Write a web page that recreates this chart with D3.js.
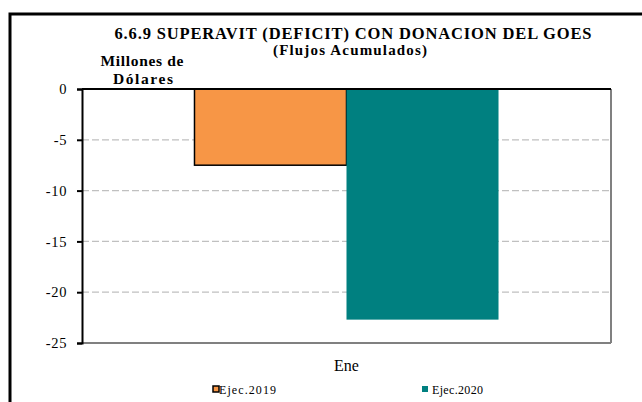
<!DOCTYPE html>
<html>
<head>
<meta charset="utf-8">
<script src="https://cdn.jsdelivr.net/npm/d3@7"></script>
<style>
  body { margin: 0; background: #fff; }
</style>
</head>
<body>
<div id="chart"></div>
<script>
var categories = ["Ene"];
var seriesNames = ["Ejec.2019", "Ejec.2020"];
var ejec2019 = [-7.5];
var ejec2020 = [-22.7];
var yTicks = [0, -5, -10, -15, -20, -25];
var colors = ["#F79646", "#008080"];

var serif = "Liberation Serif";
var width = 642, height = 402;
var margin = { top: 89, left: 82, right: 31, bottom: 59 };
var innerW = width - margin.left - margin.right;
var innerH = height - margin.top - margin.bottom;

var svg = d3.select("#chart").append("svg")
  .attr("width", width)
  .attr("height", height)
  .attr("font-family", serif);

// outer frame (right/bottom edges run off the page)
svg.append("rect")
  .attr("x", 10).attr("y", 14)
  .attr("width", 640).attr("height", 400)
  .attr("fill", "none")
  .attr("stroke", "#000")
  .attr("stroke-width", 3);

function boldLine(txt, x, yy, size, len) {
  svg.append("text")
    .attr("x", x).attr("y", yy)
    .attr("text-anchor", "middle")
    .attr("font-family", serif)
    .attr("font-size", size).attr("font-weight", "bold")
    .attr("textLength", len)
    .attr("lengthAdjust", "spacing")
    .text(txt);
}
boldLine("6.6.9 SUPERAVIT (DEFICIT) CON DONACION DEL GOES", 353, 39, 16.5, 477);
boldLine("(Flujos Acumulados)", 350, 55, 15, 154);
boldLine("Millones de", 142, 66, 15.5, 83);
boldLine("Dólares", 143, 84, 15.5, 60);

var g = svg.append("g")
  .attr("transform", "translate(" + margin.left + "," + margin.top + ")");

var y = d3.scaleLinear().domain([-25, 0]).range([innerH, 0]);
var x0 = d3.scaleBand().domain(categories).range([0, innerW]).paddingInner(0).paddingOuter(0.37);
var x1 = d3.scaleBand().domain(seriesNames).range([0, x0.bandwidth()]).padding(0);

// gridlines
g.selectAll(".grid")
  .data(yTicks.filter(function(d) { return d !== 0 && d !== -25; }))
  .enter().append("line")
  .attr("x1", 0).attr("x2", innerW)
  .attr("y1", function(d) { return y(d); })
  .attr("y2", function(d) { return y(d); })
  .attr("stroke", "#c0c0c0")
  .attr("stroke-width", 1.3)
  .attr("stroke-dasharray", "7,3");

// plot border: right and bottom gray
g.append("line")
  .attr("x1", innerW).attr("x2", innerW).attr("y1", 0).attr("y2", innerH)
  .attr("stroke", "#808080").attr("stroke-width", 2);
g.append("line")
  .attr("x1", 0).attr("x2", innerW).attr("y1", innerH).attr("y2", innerH)
  .attr("stroke", "#808080").attr("stroke-width", 2);

var rows = categories.map(function(c, i) {
  return { cat: c, vals: [ejec2019[i], ejec2020[i]] };
});

var grp = g.selectAll(".grp")
  .data(rows)
  .enter().append("g")
  .attr("transform", function(d) { return "translate(" + x0(d.cat) + ",0)"; });

grp.selectAll("rect")
  .data(function(d) { return d.vals.map(function(v, i) { return { name: seriesNames[i], v: v, i: i }; }); })
  .enter().append("rect")
  .attr("x", function(d) { return x1(d.name); })
  .attr("width", x1.bandwidth())
  .attr("y", function(d) { return y(0); })
  .attr("height", function(d) { return y(d.v) - y(0); })
  .attr("fill", function(d) { return colors[d.i]; })
  .attr("stroke", function(d) { return d.i === 0 ? "#000" : "none"; })
  .attr("stroke-width", 1.5);

// zero line on top
g.append("line")
  .attr("x1", 0).attr("x2", innerW).attr("y1", y(0)).attr("y2", y(0))
  .attr("stroke", "#000").attr("stroke-width", 2);

// y axis
var yAxis = g.append("g")
  .call(d3.axisLeft(y).tickValues(yTicks).tickSize(5).tickPadding(10).tickFormat(d3.format("d")))
  .attr("font-family", serif);
yAxis.select(".domain").attr("stroke", "#000").attr("stroke-width", 2);
yAxis.selectAll(".tick line").attr("stroke", "#000").attr("stroke-width", 2);
yAxis.selectAll(".tick text")
  .attr("font-size", 14.5)
  .attr("letter-spacing", 0.6)
  .attr("fill", "#000")
  .text(function(d) { return d < 0 ? "-" + Math.abs(d) : d; });

// category label
g.selectAll(".cat")
  .data(categories)
  .enter().append("text")
  .attr("x", function(d) { return x0(d) + x0.bandwidth() / 2; })
  .attr("y", innerH + 28)
  .attr("text-anchor", "middle")
  .attr("font-size", 16)
  .text(function(d) { return d; });

// legend
var legendX = [213, 422];
var legendTextX = [6, 10];
var legendLen = [57, 51];
var leg = svg.selectAll(".leg")
  .data(seriesNames)
  .enter().append("g")
  .attr("transform", function(d, i) { return "translate(" + legendX[i] + ",386)"; });
leg.append("rect")
  .attr("width", 6).attr("height", 6)
  .attr("fill", function(d, i) { return colors[i]; })
  .attr("stroke", function(d, i) { return i === 0 ? "#000" : "none"; })
  .attr("stroke-width", 1.5);
leg.append("text")
  .attr("x", function(d, i) { return legendTextX[i]; })
  .attr("y", 8)
  .attr("font-size", 12)
  .attr("textLength", function(d, i) { return legendLen[i]; })
  .attr("lengthAdjust", "spacing")
  .text(function(d) { return d; });
</script>
</body>
</html>
